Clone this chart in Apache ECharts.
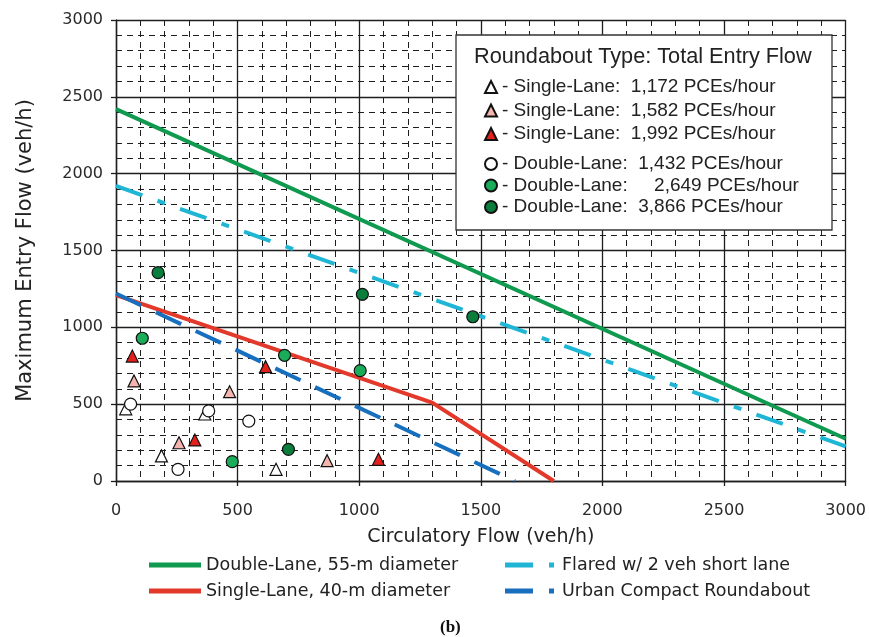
<!DOCTYPE html>
<html>
<head>
<meta charset="utf-8">
<script src="https://cdn.jsdelivr.net/npm/echarts@6/dist/echarts.min.js"></script>
<style>html,body{margin:0;padding:0;background:#fff}#c{width:869px;height:637px}</style>
</head>
<body>
<div id="c"></div>
<script>
// ---- data ----
var xTicks = [0, 500, 1000, 1500, 2000, 2500, 3000];
var yTicks = [0, 500, 1000, 1500, 2000, 2500, 3000];

var lineNames = ['Double-Lane, 55-m diameter', 'Single-Lane, 40-m diameter', 'Flared w/ 2 veh short lane', 'Urban Compact Roundabout'];
var doubleLane55 = [[0, 2420], [3000, 275]];
var singleLane40 = [[0, 1210], [1300, 510], [1800, 0]];
var flared2veh = [[0, 1920], [3000, 225]];
var urbanCompact = [[0, 1220], [1640, 0]];

var pointNames = [
  '- Single-Lane:  1,172 PCEs/hour',
  '- Single-Lane:  1,582 PCEs/hour',
  '- Single-Lane:  1,992 PCEs/hour',
  '- Double-Lane:  1,432 PCEs/hour',
  '- Double-Lane:     2,649 PCEs/hour',
  '- Double-Lane:  3,866 PCEs/hour'
];
var single1172 = [[40, 470], [365, 436], [187, 163], [658, 76]];
var single1582 = [[74, 651], [467, 581], [259, 249], [868, 132]];
var single1992 = [[67, 813], [615, 744], [324, 267], [1079, 141]];
var double1432 = [[60, 500], [381, 456], [546, 390], [255, 76]];
var double2649 = [[108, 929], [693, 818], [1004, 718], [478, 126]];
var double3866 = [[173, 1356], [1013, 1215], [1467, 1069], [709, 206]];

// ---- chart ----
var chart = echarts.init(document.getElementById('c'), null, {renderer: 'canvas'});
var axisFont = 'DejaVu Sans';
var gridBlack = '#1e1e1e';

function lineSeries(name, data, color, type) {
  return {
    name: name, type: 'line', data: data, symbol: 'none', z: 2,
    lineStyle: {color: color, width: 4, type: type, cap: 'butt'},
    itemStyle: {color: color}
  };
}
function pointSeries(name, data, symbol, fill) {
  return {
    name: name, type: 'scatter', data: data, symbol: symbol, symbolSize: 12, z: 5,
    itemStyle: {color: fill, borderColor: '#111', borderWidth: 1.2, opacity: 1}
  };
}
function plain(v) { return String(v); }

var solidIcon = 'rect';
var dashIcon = 'path://M0,0H28V5H0Z M44,0H49V5H44Z';
var bottomLegendText = {fontFamily: 'DejaVu Sans', fontSize: 17.5, color: '#222', lineHeight: 18};

var option = {
  animation: false,
  backgroundColor: '#fff',
  grid: {left: 116, right: 21, top: 20, bottom: 156, containLabel: false},
  xAxis: {
    type: 'value', min: xTicks[0], max: xTicks[xTicks.length - 1], interval: 500,
    name: 'Circulatory Flow (veh/h)', nameLocation: 'middle', nameGap: 47,
    nameTextStyle: {fontFamily: axisFont, fontSize: 19, color: '#222'},
    axisLine: {show: true, onZero: false, lineStyle: {color: gridBlack, width: 1.4}},
    axisTick: {show: true, length: 5, lineStyle: {color: gridBlack, width: 1.3}},
    axisLabel: {fontFamily: axisFont, fontSize: 16, color: '#2a2a2a', margin: 22, formatter: plain},
    splitLine: {show: true, lineStyle: {color: gridBlack, width: 1.3}},
    minorTick: {show: false, splitNumber: 5},
    minorSplitLine: {show: true, lineStyle: {color: gridBlack, width: 1, type: [6, 5]}}
  },
  yAxis: {
    type: 'value', min: yTicks[0], max: yTicks[yTicks.length - 1], interval: 500,
    name: 'Maximum Entry Flow (veh/h)', nameLocation: 'middle', nameGap: 80,
    nameTextStyle: {fontFamily: axisFont, fontSize: 21, color: '#222'},
    axisLine: {show: true, lineStyle: {color: gridBlack, width: 1.4}},
    axisTick: {show: true, length: 5, lineStyle: {color: gridBlack, width: 1.3}},
    axisLabel: {fontFamily: axisFont, fontSize: 16, color: '#2a2a2a', margin: 13, formatter: plain},
    splitLine: {show: true, lineStyle: {color: gridBlack, width: 1.3}},
    minorTick: {show: false, splitNumber: 5},
    minorSplitLine: {show: true, lineStyle: {color: gridBlack, width: 1, type: [6, 5]}}
  },
  legend: [
    {
      data: [{name: lineNames[0], icon: solidIcon}, {name: lineNames[1], icon: solidIcon}],
      orient: 'vertical', left: 149, top: 556, padding: 0,
      itemWidth: 52, itemHeight: 5, itemGap: 8, symbolKeepAspect: false, selectedMode: false,
      textStyle: bottomLegendText
    },
    {
      data: [{name: lineNames[2], icon: dashIcon}, {name: lineNames[3], icon: dashIcon}],
      orient: 'vertical', left: 505, top: 556, padding: 0,
      itemWidth: 49, itemHeight: 5, itemGap: 8, symbolKeepAspect: false, selectedMode: false,
      textStyle: Object.assign({}, bottomLegendText, {padding: [0, 0, 0, 3]})
    },
    {
      data: pointNames.slice(0, 3),
      orient: 'vertical', left: 484, top: 77, padding: 0, z: 100,
      itemWidth: 12, itemHeight: 12, itemGap: 3.5, selectedMode: false,
      textStyle: {fontFamily: 'Liberation Sans', fontSize: 19, color: '#222', lineHeight: 20}
    },
    {
      data: pointNames.slice(3),
      orient: 'vertical', left: 484, top: 154, padding: 0, z: 100,
      itemWidth: 12, itemHeight: 12, itemGap: 1.5, selectedMode: false,
      textStyle: {fontFamily: 'Liberation Sans', fontSize: 19, color: '#222', lineHeight: 20}
    }
  ],
  graphic: [
    {type: 'rect', z: 50, shape: {x: 456, y: 35, width: 376, height: 195},
     style: {fill: '#fff', stroke: '#333', lineWidth: 1.3}},
    {type: 'text', z: 60, left: 474, top: 46,
     style: {text: 'Roundabout Type: Total Entry Flow', font: '21.7px "Liberation Sans"', fill: '#222'}},
    {type: 'text', z: 60, left: 440, top: 619,
     style: {text: '(b)', font: 'bold 17px "Liberation Serif"', fill: '#111'}}
  ],
  series: [
    lineSeries(lineNames[0], doubleLane55, '#0f9a50', 'solid'),
    lineSeries(lineNames[1], singleLane40, '#e2392b', 'solid'),
    lineSeries(lineNames[2], flared2veh, '#1fb6d6', [28, 16, 8, 16]),
    lineSeries(lineNames[3], urbanCompact, '#176fbd', [28, 16]),
    pointSeries(pointNames[0], single1172, 'triangle', '#ffffff'),
    pointSeries(pointNames[1], single1582, 'triangle', '#f3b5ae'),
    pointSeries(pointNames[2], single1992, 'triangle', '#e4201c'),
    pointSeries(pointNames[3], double1432, 'circle', '#ffffff'),
    pointSeries(pointNames[4], double2649, 'circle', '#1aac58'),
    pointSeries(pointNames[5], double3866, 'circle', '#0b7d3c')
  ]
};
chart.setOption(option);
</script>
</body>
</html>
